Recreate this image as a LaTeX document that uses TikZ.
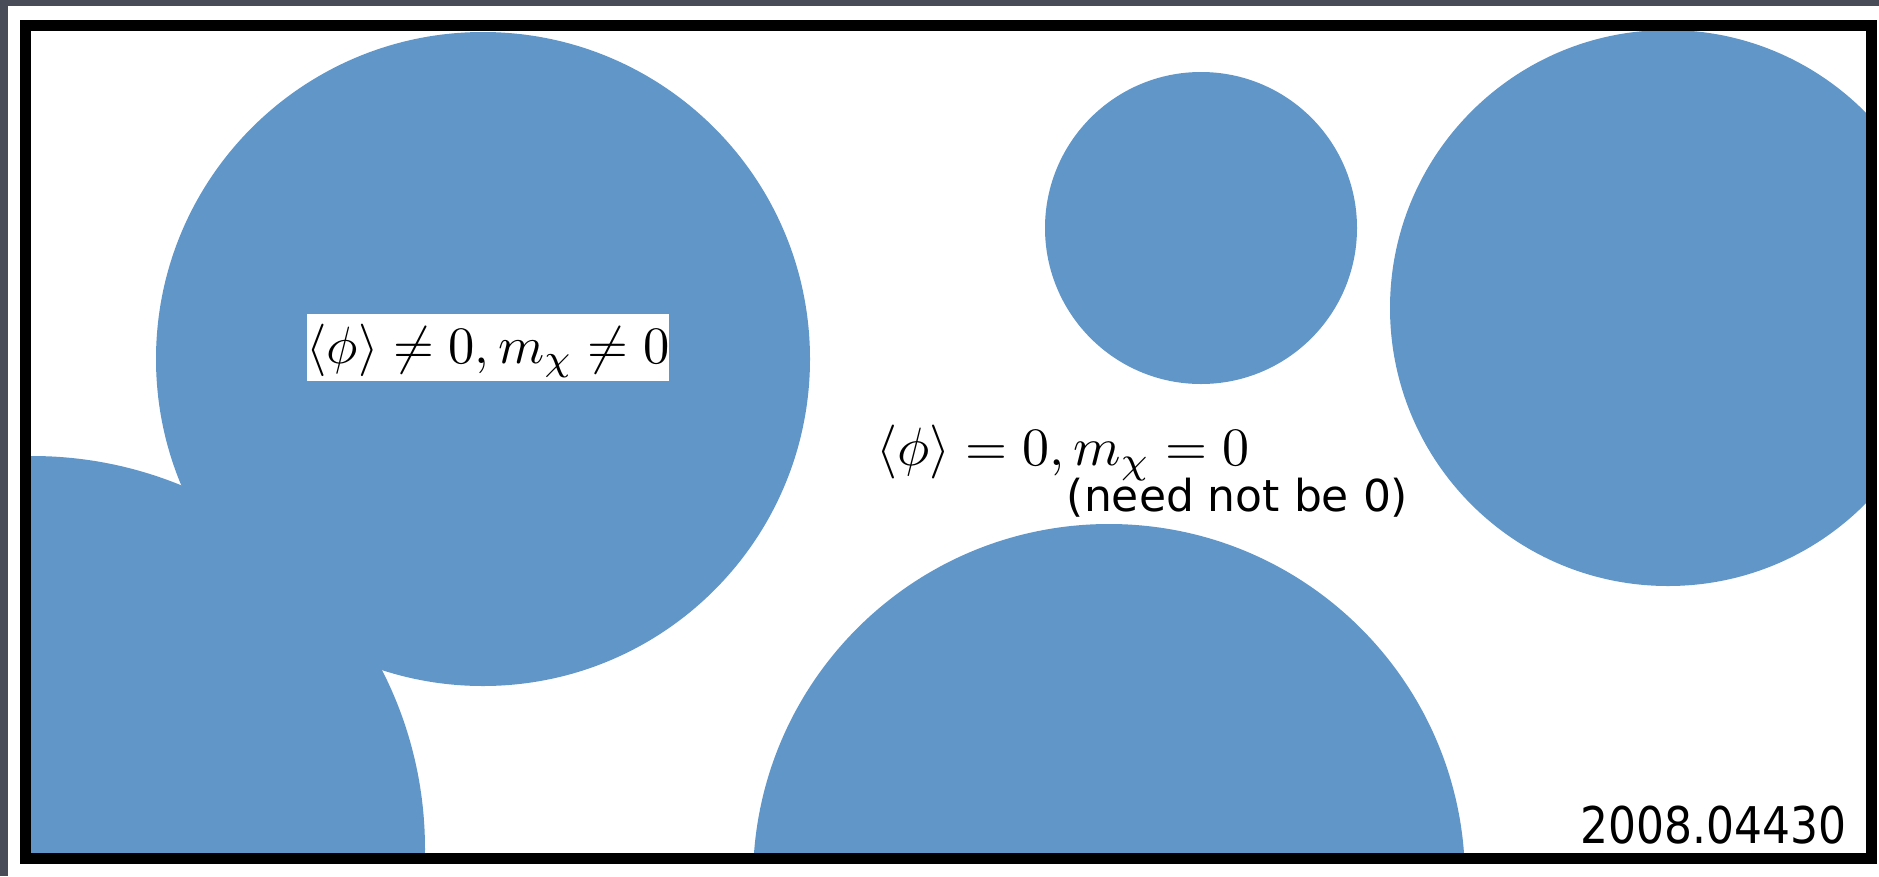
\documentclass[tikz,border=0pt]{standalone}
\usepackage{fontspec}
\newfontfamily\hand{DejaVu Sans}
\definecolor{blob}{RGB}{97,150,200}
\definecolor{slate}{RGB}{72,76,88}
\tikzset{
  region/.style={fill=blob},
  mathlabel/.style={inner sep=0pt, anchor=base},
  handlabel/.style={inner sep=0pt, scale=4.4, font=\hand},
}
\begin{document}
\begin{tikzpicture}[x=1pt,y=-1pt]
\useasboundingbox (0,0) rectangle (1879,876);
\fill[slate] (0,0) rectangle (1879,876);
\fill[white] (8,6) rectangle (1879,876);
\begin{scope}
  \clip (30,31) rectangle (1866,855);
  \fill[region] (32,849) circle [radius=393];
  \fill[region] (483,359) circle [radius=327];
  \fill[region] (1201,228) circle [radius=156];
  \fill[region] (1668,308) circle [radius=278];
  \fill[region] (1109,880) circle [radius=356];
\end{scope}
\draw[line width=11] (25,25) rectangle (1871,858);
\fill[white] (307,314) rectangle (669,381);
\node[mathlabel, scale=5.25] (broken) at (488,363) {$\langle\phi\rangle\neq0,m_\chi\neq0$};
\node[mathlabel, scale=5.4] (sym) at (1063,465) {$\langle\phi\rangle=0,m_\chi=0$};
\node[handlabel, anchor=base west] (note) at (1066,511) {(need not be 0)};
\node[handlabel, yscale=1.15, anchor=base east] (ref) at (1847,843) {2008.04430};
\end{tikzpicture}
\end{document}
